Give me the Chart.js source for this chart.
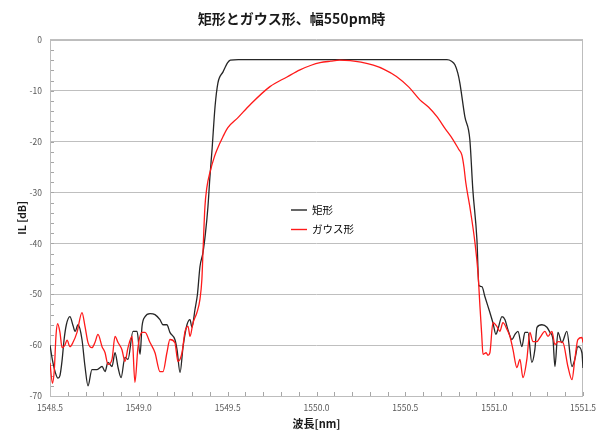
<!DOCTYPE html>
<html>
<head>
<meta charset="utf-8">
<script src="https://cdn.jsdelivr.net/npm/chart.js@4/dist/chart.umd.min.js"></script>
<style>
html,body{margin:0;padding:0;background:#fff;}
#wrap{width:597px;height:431px;}
</style>
</head>
<body>
<div id="wrap"><canvas id="c" width="597" height="431"></canvas></div>
<script>
const chartTitle = '矩形とガウス形、幅550pm時';
const xTitle = '波長[nm]';
const yTitle = 'IL [dB]';
const seriesNames = ['矩形', 'ガウス形'];

const xTicks = [1548.5, 1549.0, 1549.5, 1550.0, 1550.5, 1551.0, 1551.5];
const yTicks = [0, -10, -20, -30, -40, -50, -60, -70];

const wlRect = [1548.500,1548.514,1548.531,1548.545,1548.556,1548.568,1548.579,1548.592,1548.612,1548.630,1548.641,1548.658,1548.680,1548.697,1548.714,1548.736,1548.765,1548.793,1548.810,1548.826,1548.849,1548.866,1548.883,1548.900,1548.922,1548.939,1548.967,1548.990,1549.007,1549.018,1549.035,1549.063,1549.091,1549.119,1549.136,1549.158,1549.175,1549.203,1549.215,1549.232,1549.249,1549.271,1549.288,1549.299,1549.316,1549.330,1549.344,1549.361,1549.375,1549.389,1549.400,1549.412,1549.429,1549.445,1549.474,1549.500,1549.515,1549.560,1549.800,1550.100,1550.400,1550.734,1550.760,1550.779,1550.795,1550.807,1550.835,1550.863,1550.880,1550.903,1550.914,1550.931,1550.948,1550.976,1550.993,1551.010,1551.021,1551.044,1551.061,1551.077,1551.100,1551.117,1551.134,1551.156,1551.173,1551.190,1551.212,1551.229,1551.241,1551.269,1551.297,1551.314,1551.331,1551.342,1551.359,1551.381,1551.409,1551.438,1551.454,1551.471,1551.494,1551.500];
const ilRect = [-60.0,-63.0,-65.5,-66.5,-66.0,-63.0,-59.0,-56.0,-54.4,-56.2,-57.3,-56.0,-58.9,-64.2,-68.0,-64.8,-64.8,-64.2,-65.2,-63.4,-64.2,-61.5,-64.4,-66.4,-62.4,-62.8,-57.3,-57.3,-61.8,-56.3,-54.4,-53.8,-54.0,-55.0,-56.0,-56.0,-57.5,-58.9,-60.9,-65.4,-60.3,-56.0,-55.0,-56.5,-53.0,-50.0,-44.6,-41.8,-38.0,-32.8,-27.0,-21.6,-13.1,-8.5,-6.3,-4.5,-4.0,-3.9,-3.9,-3.9,-3.9,-3.9,-4.2,-4.9,-6.5,-8.5,-15.1,-19.6,-29.5,-39.3,-48.3,-48.5,-50.5,-53.6,-55.6,-57.9,-56.9,-54.4,-55.0,-56.9,-58.9,-57.9,-57.3,-60.3,-57.5,-57.5,-63.4,-60.9,-56.5,-56.0,-56.5,-57.5,-58.9,-64.2,-57.5,-59.5,-57.3,-64.2,-62.8,-60.3,-61.5,-64.5];

const wlGauss = [1548.500,1548.514,1548.524,1548.534,1548.543,1548.556,1548.568,1548.584,1548.596,1548.612,1548.629,1548.652,1548.680,1548.697,1548.714,1548.736,1548.753,1548.770,1548.793,1548.810,1548.826,1548.849,1548.866,1548.883,1548.905,1548.922,1548.939,1548.962,1548.978,1548.995,1549.018,1549.035,1549.063,1549.091,1549.119,1549.136,1549.158,1549.175,1549.203,1549.220,1549.243,1549.260,1549.277,1549.288,1549.305,1549.327,1549.344,1549.355,1549.361,1549.372,1549.383,1549.400,1549.425,1549.440,1549.474,1549.500,1549.558,1549.625,1549.738,1549.834,1549.907,1549.970,1550.020,1550.080,1550.130,1550.190,1550.250,1550.320,1550.380,1550.450,1550.520,1550.582,1550.630,1550.678,1550.725,1550.768,1550.800,1550.818,1550.830,1550.840,1550.863,1550.892,1550.909,1550.920,1550.930,1550.937,1550.955,1550.965,1550.976,1550.993,1551.015,1551.032,1551.049,1551.072,1551.089,1551.106,1551.128,1551.145,1551.162,1551.184,1551.201,1551.218,1551.241,1551.258,1551.286,1551.303,1551.325,1551.342,1551.359,1551.387,1551.415,1551.438,1551.454,1551.471,1551.494,1551.500];
const ilGauss = [-63.5,-67.5,-65.0,-58.0,-55.8,-57.5,-60.5,-60.0,-59.0,-60.3,-59.5,-57.5,-53.6,-56.3,-59.5,-60.5,-59.5,-57.9,-60.3,-61.5,-63.8,-62.8,-58.3,-59.5,-60.9,-63.2,-60.5,-58.3,-67.3,-60.5,-57.5,-57.5,-59.5,-61.5,-65.2,-65.2,-61.5,-58.9,-59.5,-63.2,-61.5,-57.3,-56.3,-58.3,-55.6,-53.6,-51.0,-47.0,-41.8,-32.8,-29.0,-26.1,-23.0,-21.6,-19.0,-17.3,-15.3,-12.8,-9.2,-7.3,-5.9,-5.0,-4.5,-4.2,-4.0,-4.1,-4.4,-5.0,-5.8,-7.2,-9.3,-11.8,-13.2,-15.1,-17.5,-19.6,-21.5,-22.6,-25.0,-28.0,-32.8,-39.9,-45.8,-52.4,-58.0,-61.8,-61.5,-62.0,-61.5,-55.6,-56.3,-57.3,-55.6,-56.9,-58.3,-60.9,-64.4,-62.8,-66.4,-62.8,-57.5,-59.3,-59.3,-58.5,-57.3,-58.3,-57.3,-59.9,-59.3,-59.5,-64.2,-66.8,-62.8,-58.9,-58.5,-59.5];

const FONT = "'Noto Sans CJK JP', 'Noto Sans', sans-serif";
const zip = (xs, ys) => xs.map((x, i) => ({x: x, y: ys[i]}));

const frameAndMinorTicks = {
  id: 'frameAndMinorTicks',
  beforeDatasetsDraw(chart) {
    const {ctx, chartArea: a, scales: {x, y}} = chart;
    ctx.save();
    ctx.strokeStyle = '#a6a6a6';
    ctx.lineWidth = 1;
    ctx.beginPath();
    for (let v = yTicks[yTicks.length - 1]; v <= yTicks[0]; v += 2) {
      const py = Math.round(y.getPixelForValue(v)) + 0.5;
      ctx.moveTo(a.left, py); ctx.lineTo(a.left + 4, py);
    }
    for (let k = 0; k <= 30; k++) {
      const v = xTicks[0] + k * 0.1;
      const px = Math.round(x.getPixelForValue(v)) + 0.5;
      ctx.moveTo(px, a.bottom); ctx.lineTo(px, a.bottom - 4);
    }
    ctx.stroke();
    ctx.strokeStyle = '#bdbdbd';
    ctx.lineWidth = 1;
    ctx.strokeRect(Math.round(a.left) + 0.5, Math.round(a.top) + 0.5,
                   Math.round(a.right - a.left) - 1, Math.round(a.bottom - a.top));
    ctx.restore();
  }
};

const innerLegend = {
  id: 'innerLegend',
  afterDatasetsDraw(chart) {
    const {ctx} = chart;
    ctx.save();
    ctx.font = "10.5px " + FONT;
    ctx.textBaseline = 'middle';
    ctx.textAlign = 'left';
    chart.data.datasets.forEach((ds, i) => {
      const yy = 210 + i * 19.5;
      ctx.strokeStyle = ds.borderColor;
      ctx.lineWidth = 1.4;
      ctx.beginPath();
      ctx.moveTo(291, yy); ctx.lineTo(307, yy);
      ctx.stroke();
      ctx.fillStyle = '#000';
      ctx.fillText(ds.label, 312, yy);
    });
    ctx.restore();
  }
};

new Chart(document.getElementById('c'), {
  type: 'line',
  data: {
    datasets: [
      {label: seriesNames[0], data: zip(wlRect, ilRect), borderColor: '#262626', borderWidth: 1.3,
       pointRadius: 0, cubicInterpolationMode: 'monotone', order: 1},
      {label: seriesNames[1], data: zip(wlGauss, ilGauss), borderColor: '#ff1a1a', borderWidth: 1.3,
       pointRadius: 0, cubicInterpolationMode: 'monotone', order: 0}
    ]
  },
  options: {
    responsive: false,
    animation: false,
    devicePixelRatio: 1,
    layout: {padding: {left: 0, right: 14, top: 0, bottom: 0}},
    plugins: {
      legend: {display: false},
      tooltip: {enabled: false},
      title: {display: true, text: chartTitle, color: '#1a1a1a',
              font: {family: FONT, size: 14, weight: 'bold'}, padding: {top: 10, bottom: 13}}
    },
    scales: {
      x: {
        type: 'linear', min: xTicks[0], max: xTicks[xTicks.length - 1],
        afterFit(s) { s.height = 35; s.paddingLeft = 0; s.paddingRight = 0; },
        afterBuildTicks(s) { s.ticks = xTicks.map(v => ({value: v})); },
        grid: {display: false, drawTicks: false},
        border: {display: false},
        ticks: {autoSkip: false, maxRotation: 0, padding: 7, color: '#595959',
                font: {family: FONT, size: 8.5}, callback: v => Number(v).toFixed(1)},
        title: {display: true, text: xTitle, color: '#1a1a1a',
                font: {family: FONT, size: 11, weight: 'bold'}, padding: {top: 0, bottom: 1}}
      },
      y: {
        type: 'linear', min: yTicks[yTicks.length - 1], max: yTicks[0],
        afterFit(s) { s.width = 50; s.paddingTop = 0; s.paddingBottom = 0; },
        afterBuildTicks(s) { s.ticks = yTicks.map(v => ({value: v})); },
        grid: {color: '#bfbfbf', lineWidth: 1, drawTicks: false},
        border: {display: false},
        ticks: {padding: 8, color: '#595959', font: {family: FONT, size: 8.5},
                callback: v => String(v)},
        title: {display: true, text: yTitle, color: '#1a1a1a',
                font: {family: FONT, size: 10.5, weight: 'bold'}, padding: {top: 16, bottom: 0}}
      }
    }
  },
  plugins: [frameAndMinorTicks, innerLegend]
});
</script>
</body>
</html>
